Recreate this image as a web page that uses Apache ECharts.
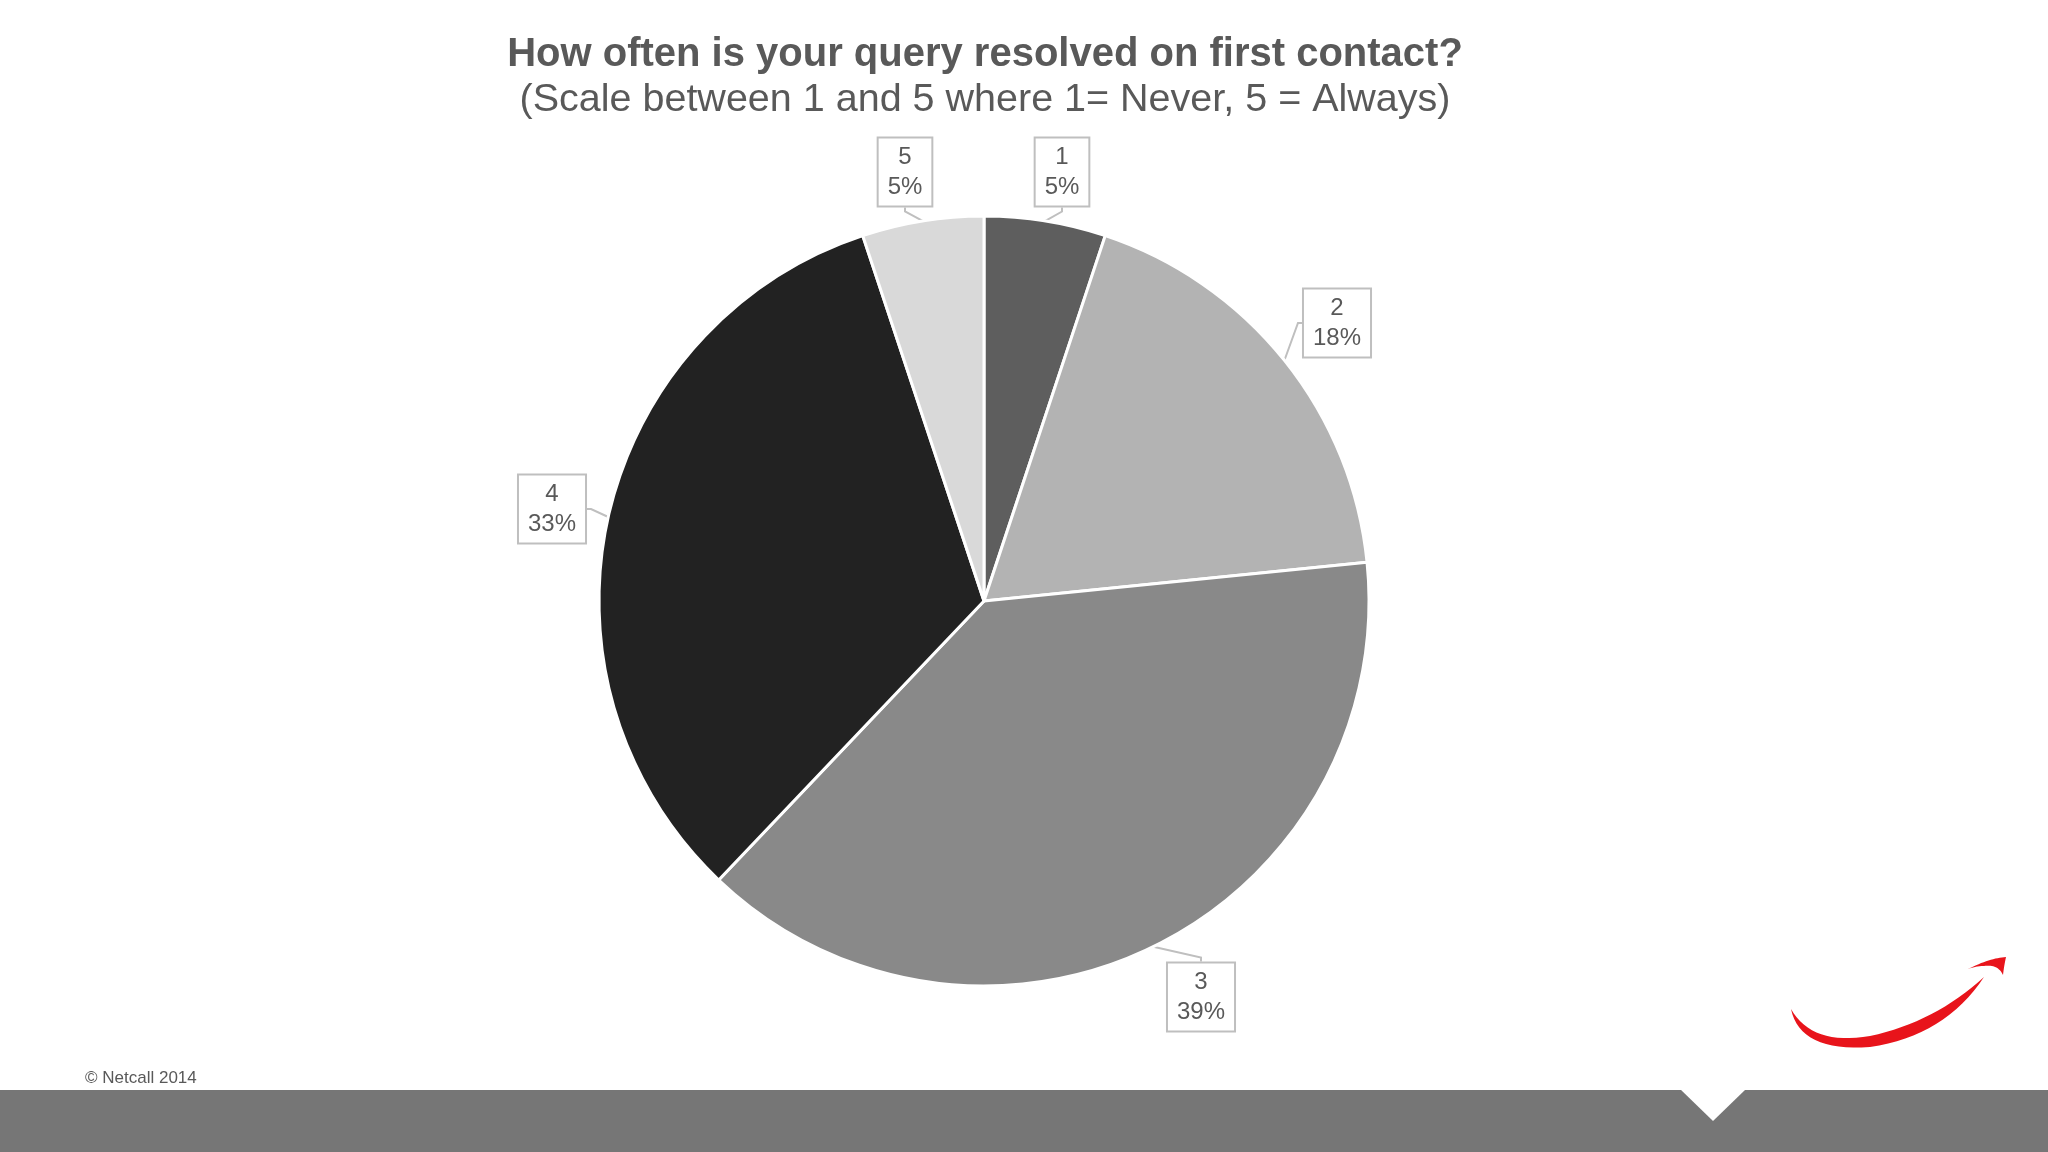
<!DOCTYPE html>
<html>
<head>
<meta charset="utf-8">
<script src="https://cdn.jsdelivr.net/npm/echarts@6/dist/echarts.min.js"></script>
<style>
html,body{margin:0;padding:0;background:#fff;}
#chart{width:2048px;height:1152px;}
</style>
</head>
<body>
<div id="chart"></div>
<script>
const categories = ['1', '2', '3', '4', '5'];
const shares = [5.1, 18.3, 38.7, 32.8, 5.1];
const titleText = 'How often is your query resolved on first contact?';
const subtitleText = '(Scale between 1 and 5 where 1= Never, 5 = Always)';
const footerText = '\u00A9 Netcall 2014';

// ---- styling / layout ----
const sliceColors = ['#5e5e5e', '#b3b3b3', '#898989', '#222222', '#d9d9d9'];
const labelCenters = [[1062, 172], [1337, 323], [1201, 997], [552, 509], [905, 172]];

// decorative logo outline: quadratic bezier segments sampled into polygon points
function quadPoly(start, segs) {
  const pts = [start];
  let p0 = start;
  segs.forEach(function (s) {
    const c = s[0], p1 = s[1];
    for (let k = 1; k <= 16; k++) {
      const t = k / 16, u = 1 - t;
      pts.push([u * u * p0[0] + 2 * u * t * c[0] + t * t * p1[0],
                u * u * p0[1] + 2 * u * t * c[1] + t * t * p1[1]]);
    }
    p0 = p1;
  });
  return pts;
}
const swooshPts = quadPoly([1791, 1009], [
  [[1800, 1052], [1870, 1047]],
  [[1945, 1036], [1984, 977]],
  [[1935, 1022], [1870, 1036]],
  [[1812, 1046], [1791, 1009]]
]);
const tipPts = quadPoly([1968, 969], [
  [[1990, 958], [2006, 957]],
  [[2004, 966], [2003, 975]],
  [[1998, 964], [1984, 966]],
  [[1976, 966], [1968, 969]]
]);

const chart = echarts.init(document.getElementById('chart'), null, {renderer: 'canvas'});

const option = {
  backgroundColor: '#ffffff',
  animation: false,
  title: {
    text: titleText,
    subtext: subtitleText,
    left: 985,
    top: 35,
    textAlign: 'center',
    padding: 0,
    itemGap: 5,
    textStyle: {
      fontFamily: 'Liberation Sans, Arial, sans-serif',
      fontWeight: 'bold',
      fontSize: 40,
      color: '#595959'
    },
    subtextStyle: {
      fontFamily: 'Liberation Sans, Arial, sans-serif',
      fontSize: 39.5,
      color: '#595959'
    }
  },
  series: [{
    type: 'pie',
    center: [984, 601],
    radius: [0, 385],
    startAngle: 90,
    clockwise: true,
    avoidLabelOverlap: false,
    percentPrecision: 0,
    itemStyle: {borderColor: '#ffffff', borderWidth: 3},
    emphasis: {disabled: true},
    label: {
      show: true,
      position: 'outside',
      formatter: '{b}\n{d}%',
      fontFamily: 'Liberation Sans, Arial, sans-serif',
      fontSize: 24,
      lineHeight: 30,
      color: '#595959',
      backgroundColor: '#ffffff',
      borderColor: '#bfbfbf',
      borderWidth: 2,
      padding: [4, 9, 3, 9],
      align: 'center'
    },
    labelLine: {
      show: true,
      length: 8,
      length2: 4,
      smooth: false,
      lineStyle: {color: '#bfbfbf', width: 2}
    },
    labelLayout: function (params) {
      const c = labelCenters[params.dataIndex];
      return {x: c[0], y: c[1], align: 'center', verticalAlign: 'middle'};
    },
    data: categories.map((name, i) => ({
      name: name,
      value: shares[i],
      itemStyle: {color: sliceColors[i]}
    }))
  }],
  graphic: [
    {
      type: 'rect',
      shape: {x: 0, y: 1090, width: 2048, height: 62},
      style: {fill: '#767676'},
      silent: true
    },
    {
      type: 'polygon',
      shape: {points: [[1680, 1089], [1746, 1089], [1713, 1121]]},
      style: {fill: '#ffffff'},
      silent: true
    },
    {
      type: 'text',
      x: 85,
      y: 1070,
      style: {
        text: footerText,
        font: '17px "Liberation Sans", Arial, sans-serif',
        fill: '#595959'
      },
      silent: true
    },
    {
      type: 'polygon',
      shape: {points: swooshPts},
      style: {fill: '#e8141b'},
      silent: true
    },
    {
      type: 'polygon',
      shape: {points: tipPts},
      style: {fill: '#e8141b'},
      silent: true
    }
  ]
};

chart.setOption(option);
</script>
</body>
</html>
